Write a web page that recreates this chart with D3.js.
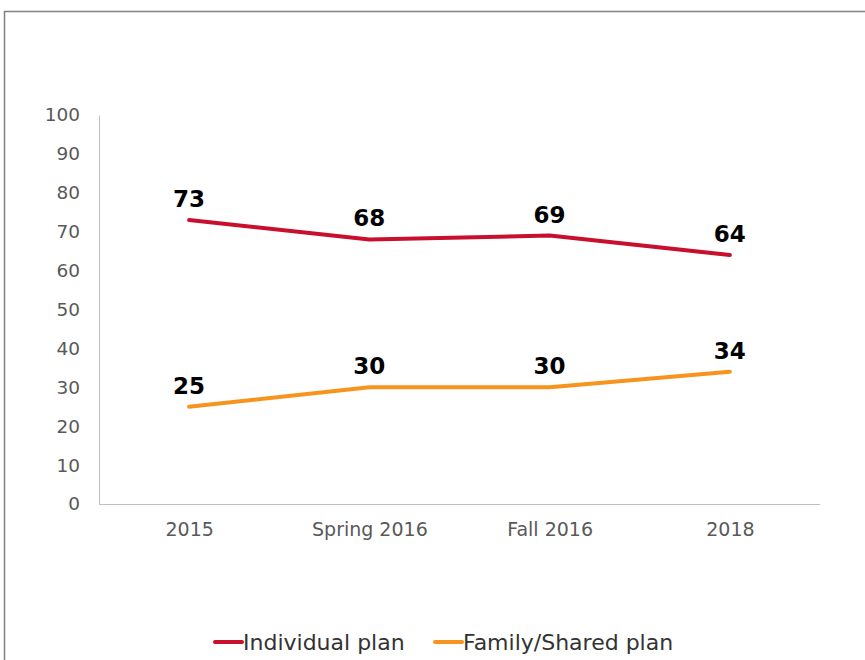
<!DOCTYPE html>
<html>
<head>
<meta charset="utf-8">
<script src="https://cdn.jsdelivr.net/npm/d3@7"></script>
<style>
  html, body { margin: 0; padding: 0; background: #fff; }
  svg { display: block; font-family: "DejaVu Sans", Verdana, sans-serif; }
</style>
</head>
<body>
<svg id="chart" width="865" height="660"></svg>
<script>
// Survey waves and share of respondents by plan type
const categories = ["2015", "Spring 2016", "Fall 2016", "2018"];
const individualPlan = [73, 68, 69, 64];
const familySharedPlan = [25, 30, 30, 34];
const yTicks = [0, 10, 20, 30, 40, 50, 60, 70, 80, 90, 100];

const series = [
  { name: "Individual plan", values: individualPlan, color: "#C8102E" },
  { name: "Family/Shared plan", values: familySharedPlan, color: "#F7941D" }
];

const svg = d3.select("#chart");

// outer frame (top and left edges)
svg.append("path")
  .attr("d", "M4.5,660 V11.5 H865")
  .attr("fill", "none")
  .attr("stroke", "#808080")
  .attr("stroke-width", 1.5);

const plot = { left: 99, right: 820, top: 115, bottom: 504 };

const x = d3.scalePoint()
  .domain(categories)
  .range([plot.left, plot.right])
  .padding(0.5);

const y = d3.scaleLinear()
  .domain([0, 100])
  .range([plot.bottom, plot.top]);

// y axis
const yAxis = svg.append("g")
  .attr("transform", `translate(${plot.left},0)`)
  .call(d3.axisLeft(y).tickValues(yTicks).tickSize(0).tickPadding(19));
yAxis.select(".domain").attr("stroke", "#bfbfbf").attr("stroke-width", 1);
yAxis.selectAll("text")
  .attr("fill", "#595959")
  .style("font-size", "18.5px")
  .style("font-family", "DejaVu Sans, Verdana, sans-serif");

// x axis
const xAxis = svg.append("g")
  .attr("transform", `translate(0,${plot.bottom})`)
  .call(d3.axisBottom(x).tickSize(0).tickPadding(19));
xAxis.select(".domain")
  .attr("d", `M${plot.left},0.5H${plot.right}`)
  .attr("stroke", "#bfbfbf").attr("stroke-width", 1);
xAxis.selectAll("text")
  .attr("fill", "#595959")
  .style("font-size", "19px")
  .style("font-family", "DejaVu Sans, Verdana, sans-serif");

const line = d3.line()
  .x((d, i) => x(categories[i]))
  .y(d => y(d));

series.forEach(s => {
  svg.append("path")
    .datum(s.values)
    .attr("d", line)
    .attr("fill", "none")
    .attr("stroke", s.color)
    .attr("stroke-width", 4)
    .attr("stroke-linecap", "round")
    .attr("stroke-linejoin", "round");

  svg.append("g")
    .selectAll("text")
    .data(s.values)
    .join("text")
    .attr("x", (d, i) => x(categories[i]))
    .attr("y", d => y(d) - 13)
    .attr("text-anchor", "middle")
    .attr("font-size", "23px")
    .attr("font-weight", "bold")
    .attr("fill", "#000")
    .text(d => d);
});

// legend
const legendItems = [
  { x: 215, s: series[0] },
  { x: 435, s: series[1] }
];
legendItems.forEach(item => {
  const g = svg.append("g").attr("transform", `translate(${item.x},642)`);
  g.append("line")
    .attr("x1", 0).attr("x2", 27)
    .attr("y1", 0).attr("y2", 0)
    .attr("stroke", item.s.color)
    .attr("stroke-width", 4)
    .attr("stroke-linecap", "round");
  g.append("text")
    .attr("x", 28)
    .attr("y", 8)
    .attr("font-size", "22px")
    .attr("fill", "#333")
    .text(item.s.name);
});
</script>
</body>
</html>
